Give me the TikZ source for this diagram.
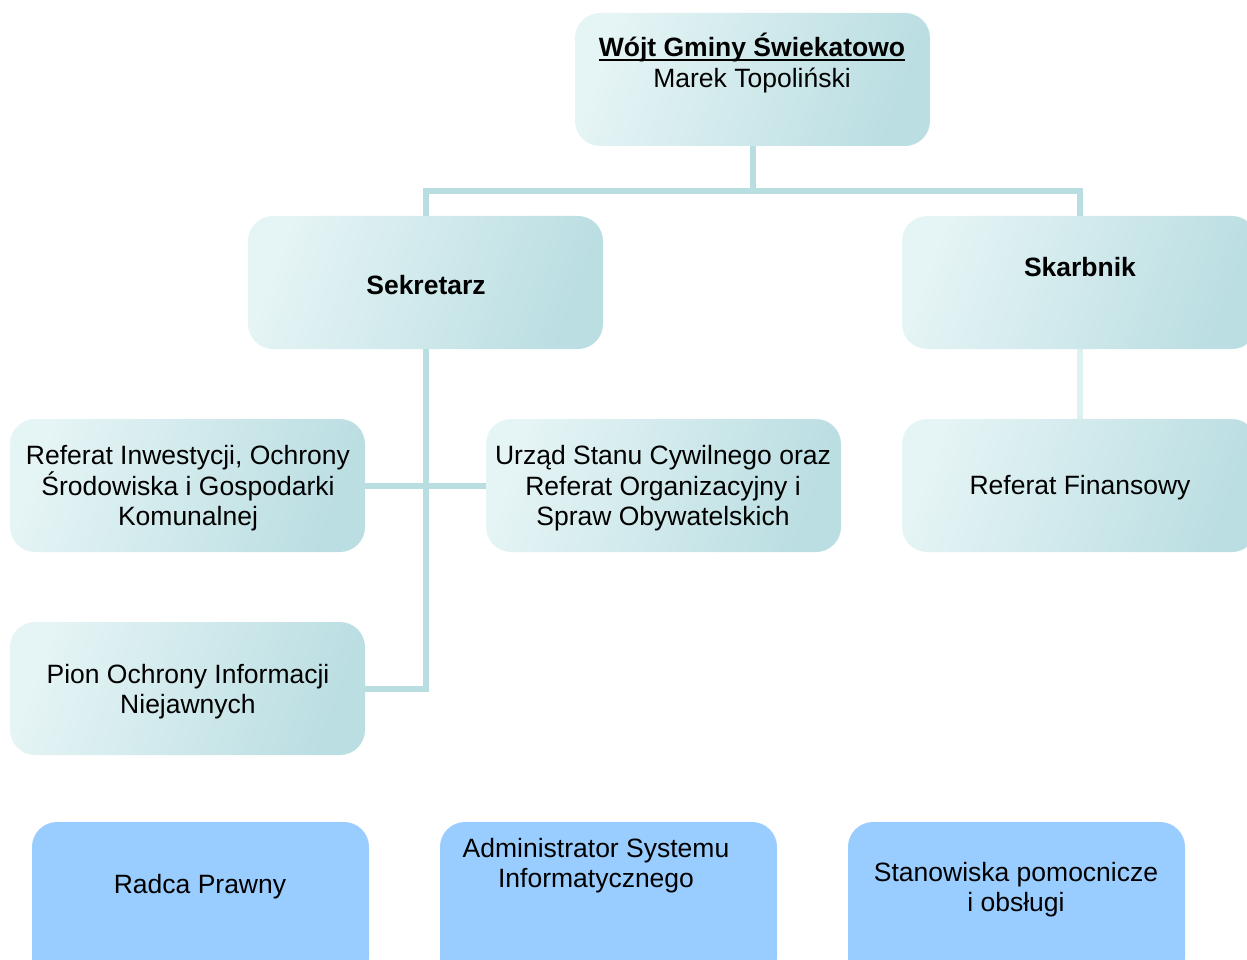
\documentclass[tikz,border=0pt]{standalone}
\usepackage{fontspec}
\setmainfont{Liberation Sans}
\newcommand\myul[1]{\setbox0\hbox{#1}\rlap{\vrule height -2pt depth 4.6pt width \wd0}\box0}
\definecolor{boxL}{HTML}{E5F4F5}
\definecolor{boxM}{HTML}{DAEFF1}
\definecolor{boxR}{HTML}{BBDEE2}
\definecolor{linec}{HTML}{B9DEE2}
\definecolor{linel}{HTML}{DDF0F2}
\definecolor{blu}{HTML}{99CCFF}
\tikzset{
  tealbox/.style={rectangle, rounded corners=25pt, minimum width=355pt, minimum height=133pt, inner sep=0pt, left color=boxL, middle color=boxM, right color=boxR, shading angle=70, draw=none},
  bluebox/.style={rectangle, rounded corners=25pt, minimum width=337pt, minimum height=160pt, inner sep=0pt, fill=blu, draw=none},
  txt/.style={align=center, inner sep=0pt, font=\fontsize{26.5}{30.6}\selectfont},
  conn/.style={draw=linec, line width=6pt},
  connl/.style={draw=linel, line width=6pt}
}
\begin{document}
\begin{tikzpicture}[x=1pt,y=-1pt]
\useasboundingbox (0,0) rectangle (1247,960);
% boxes
\node[tealbox] (wojt) at (752.5,79.5) {};
\node[tealbox] (sek) at (425.5,282.5) {};
\node[tealbox] (skarb) at (1079.5,282.5) {};
\node[tealbox] (ri) at (187.5,485.5) {};
\node[tealbox] (usc) at (663.5,485.5) {};
\node[tealbox] (rf) at (1079.5,485.5) {};
\node[tealbox] (pion) at (187.5,688.5) {};
\node[bluebox] (radca) at (200.5,902) {};
\node[bluebox] (admin) at (608.5,902) {};
\node[bluebox] (stan) at (1016.5,902) {};
% texts
\node[txt] (wojt-t) at (752,63) {\myul{\textbf{Wójt Gminy Świekatowo}}\\Marek Topoliński};
\node[txt] (sek-t) at (426,285) {\textbf{Sekretarz}};
\node[txt] (skarb-t) at (1080,267) {\textbf{Skarbnik}};
\node[txt] (ri-t) at (188,488.5) {Referat Inwestycji, Ochrony\\Środowiska i Gospodarki\\Komunalnej};
\node[txt] (usc-t) at (663,488.5) {Urząd Stanu Cywilnego oraz\\Referat Organizacyjny i\\Spraw Obywatelskich};
\node[txt] (rf-t) at (1080,488) {Referat Finansowy};
\node[txt] (pion-t) at (188,691.5) {Pion Ochrony Informacji\\Niejawnych};
\node[txt] (radca-t) at (200,887) {Radca Prawny};
\node[txt] (admin-t) at (596,865.5) {Administrator Systemu\\Informatycznego};
\node[txt] (stan-t) at (1016,889.5) {Stanowiska pomocnicze\\i obsługi};
% connectors
\coordinate (bus) at (752.5,191);
\draw[conn] (wojt.south) -- (bus);
\draw[conn] (sek.north) |- (bus) -| (skarb.north);
\draw[conn] (sek.south) |- (pion.east);
\draw[conn] (ri.east) -- (usc.west);
\draw[connl] (skarb.south) -- (rf.north);
\end{tikzpicture}
\end{document}
